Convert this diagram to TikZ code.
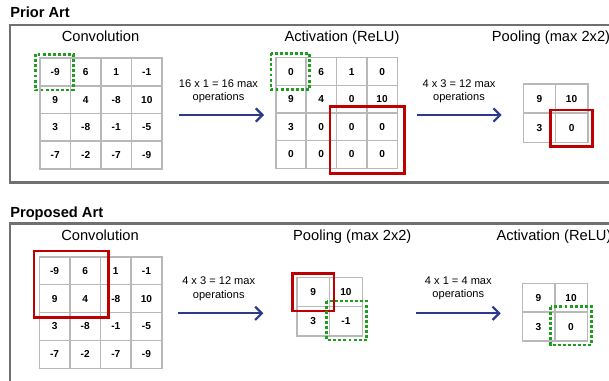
\documentclass[tikz,border=0pt]{standalone}
\usepackage{fontspec}
\setmainfont{Liberation Sans}
\usetikzlibrary{arrows.meta}
\definecolor{framegray}{HTML}{707070}
\definecolor{gridgray}{HTML}{B8B8B8}
\definecolor{boxred}{HTML}{C00000}
\definecolor{boxgreen}{HTML}{1E9E1E}
\definecolor{arrowblue}{HTML}{2B3A8C}
\tikzset{
  frame/.style={draw=framegray, line width=2.2pt},
  cell/.style={draw=gridgray, line width=1.2pt, fill=white, inner sep=0pt,
    font=\fontsize{7.6}{9}\selectfont\bfseries},
  redbox/.style={draw=boxred, line width=2pt},
  greenbox/.style={draw=boxgreen, line width=2.2pt, dash pattern=on 2.2pt off 1.6pt},
  flow/.style={draw=arrowblue, line width=1.6pt,
    -{Straight Barb[length=5pt, width=10pt, line width=1.6pt]}},
  oplabel/.style={align=center, font=\fontsize{8.3}{9.8}\selectfont, inner sep=0pt},
  stagetitle/.style={anchor=base, font=\fontsize{11}{13}\selectfont, inner sep=0pt},
  sectiontitle/.style={anchor=base west, font=\fontsize{11}{13}\selectfont\bfseries, inner sep=0pt},
}
\newcommand\drawgrid[7]{%
  \foreach \v [count=\i from 0] in {#7} {%
    \pgfmathtruncatemacro\cc{mod(\i,#6)}%
    \pgfmathtruncatemacro\rr{\i/#6}%
    \node[cell, minimum width=#4*0.75pt, minimum height=#5*0.75pt]
      (#1\i) at ({#2+#4*(\cc+0.5)},{#3+#5*(\rr+0.5)}) {\v};
  }%
}
\begin{document}
\begin{tikzpicture}[x=0.75pt, y=-0.75pt]
\useasboundingbox (0,0) rectangle (609,381);
\clip (0,0) rectangle (609,381);
\fill[white] (0,0) rectangle (609,381);

% ---------------- Prior Art ----------------
\node[sectiontitle] (priorT) at (10,17.8) {Prior Art};
\draw[frame] (10,25) rectangle (640,182.7);

\node[stagetitle] (pConvT) at (100.5,42) {Convolution};
\node[stagetitle] (pActT) at (342,42) {Activation (ReLU)};
\node[stagetitle] (pPoolT) at (551,42) {Pooling (max 2x2)};

\drawgrid{pc}{40}{58}{30.5}{27.75}{4}{-9,6,1,-1,9,4,-8,10,3,-8,-1,-5,-7,-2,-7,-9}
\drawgrid{pa}{275.7}{57.7}{30.4}{27.65}{4}{0,6,1,0,9,4,0,10,3,0,0,0,0,0,0,0}
\drawgrid{pp}{523.3}{84.3}{32.2}{29}{2}{9,10,3,0}

\draw[greenbox] (35.7,54.3) rectangle (73.3,90);
\draw[greenbox] (271,53.3) rectangle (309.3,89.3);
\draw[redbox] (330,106.7) rectangle (404.3,173.3);
\draw[redbox] (550.7,110) rectangle (592.3,146.7);

\coordinate (a1s) at (179,115);
\coordinate (a1e) at (264,115);
\draw[flow] (a1s) -- (a1e);
\node[oplabel] (l1) at (218.5,91) {16 x 1 = 16 max\\operations};

\coordinate (a2s) at (416.7,115);
\coordinate (a2e) at (501.7,115);
\draw[flow] (a2s) -- (a2e);
\node[oplabel] (l2) at (459,91) {4 x 3 = 12 max\\operations};

% ---------------- Proposed Art ----------------
\node[sectiontitle] (propT) at (10,217) {Proposed Art};
\draw[frame] (10,223.3) rectangle (640,420);

\node[stagetitle] (qConvT) at (100,240.5) {Convolution};
\node[stagetitle] (qPoolT) at (352.3,240.5) {Pooling (max 2x2)};
\node[stagetitle] (qActT) at (554,240.5) {Activation (ReLU)};

\drawgrid{qc}{39.3}{256.7}{30.6}{27.9}{4}{-9,6,1,-1,9,4,-8,10,3,-8,-1,-5,-7,-2,-7,-9}
\drawgrid{qp}{296.7}{277.3}{32.8}{29.2}{2}{9,10,3,-1}
\drawgrid{qa}{522.3}{283.3}{32.5}{28.85}{2}{9,10,3,0}

\draw[redbox] (34,251) rectangle (108.3,317.7);
\draw[redbox] (292.7,273.3) rectangle (334,311);
\draw[greenbox] (326.7,301) rectangle (366.7,340);
\draw[greenbox] (550.7,306.7) rectangle (591.7,345);

\coordinate (a3s) at (178.3,313.3);
\coordinate (a3e) at (263.3,313.3);
\draw[flow] (a3s) -- (a3e);
\node[oplabel] (l3) at (218.7,288.8) {4 x 3 = 12 max\\operations};

\coordinate (a4s) at (415.7,313.3);
\coordinate (a4e) at (500.7,313.3);
\draw[flow] (a4s) -- (a4e);
\node[oplabel] (l4) at (458.3,288.8) {4 x 1 = 4 max\\operations};
\end{tikzpicture}
\end{document}
